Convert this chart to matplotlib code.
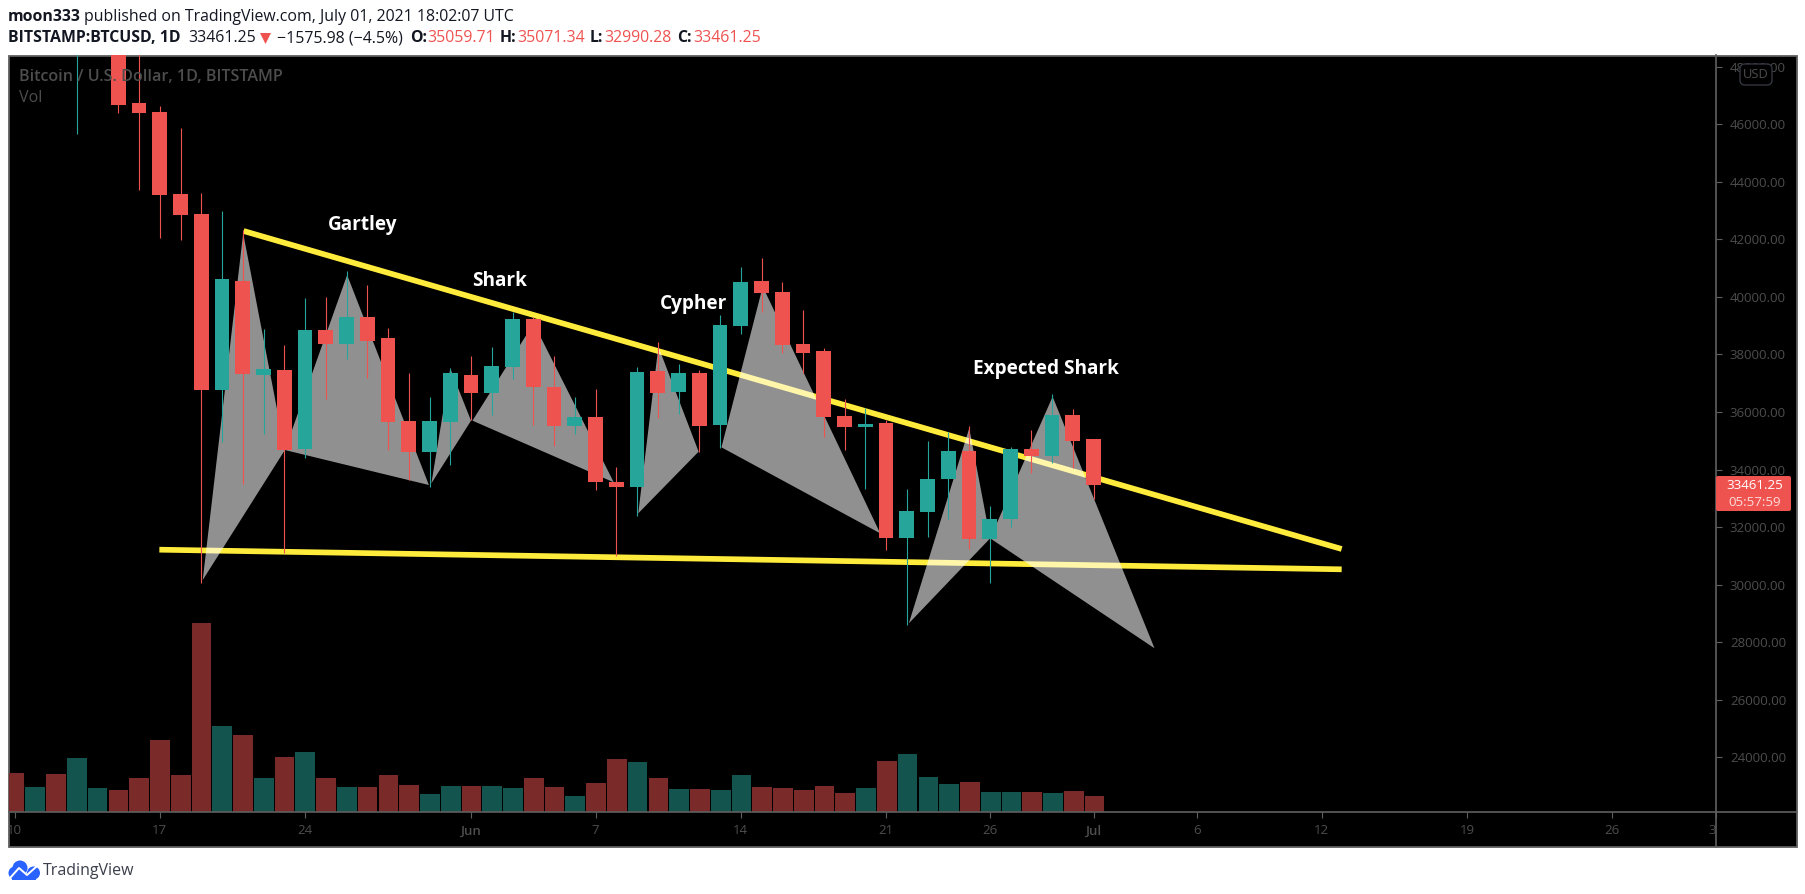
import matplotlib
matplotlib.use("Agg")
import matplotlib.pyplot as plt
from matplotlib.patches import Rectangle, Polygon, Circle, FancyBboxPatch
from matplotlib.transforms import Bbox

# days are counted from 10 May 2021 (day 0)
days = list(range(53))
opens = [58200, 55800, 56700, 49500, 49700, 49900, 46738, 46425, 43576, 42882,
         36766, 40554, 37288, 37461, 34716, 38851, 38365, 39303, 38573, 35689,
         34612, 35654, 37287, 36662, 37565, 39233, 36870, 35515, 35828, 33570,
         33396, 37427, 36697, 37357, 35550, 38990, 40554, 40172, 38365, 38122,
         35863, 35481, 35620, 31624, 32528, 33674, 34647, 31590, 32284, 34717,
         34473, 35898, 35059.71]
highs = [59500, 57900, 58000, 51500, 51500, 50700, 49000, 46634, 45870, 43600,
         42986, 42326, 38886, 38330, 39963, 39998, 40901, 40415, 38920, 37357,
         36523, 37531, 37948, 38260, 39476, 39291, 37948, 36523, 36801, 34080,
         37566, 38434, 37670, 37462, 39373, 41040, 41353, 40519, 39546, 38226,
         36454, 36130, 35724, 33327, 34995, 35307, 35516, 32736, 34786, 35377,
         36628, 36106, 35071.34]
lows = [54500, 54400, 48600, 45661, 48800, 46402, 43715, 42047, 41978, 30072,
        34960, 33500, 35237, 31114, 34404, 36454, 37843, 37183, 34681, 33639,
        33408, 34160, 35724, 35898, 37148, 35550, 34820, 35237, 33292, 30999,
        32389, 35794, 35933, 34613, 34751, 38712, 39477, 38052, 37346, 35133,
        34682, 33327, 31207, 28601, 31659, 32284, 31242, 30061, 32006, 33871,
        34242, 34056, 32990.28]
closes = [55800, 56700, 49500, 49700, 49900, 46680, 46391, 43541, 42846, 36766,
          40623, 37322, 37496, 34681, 38851, 38365, 39303, 38469, 35654, 34612,
          35689, 37357, 36662, 37600, 39233, 36870, 35515, 35828, 33570, 33396,
          37392, 36662, 37357, 35516, 39025, 40519, 40137, 38330, 38052, 35828,
          35481, 35585, 31624, 32562, 33674, 34647, 31590, 32284, 34717, 34473,
          35898, 34995, 33461.25]
# volume heights (arbitrary units)
volumes = [39, 25, 38, 54, 24, 22, 34, 72, 37, 189,
           86, 77, 34, 55, 60, 34, 25, 25, 37, 27,
           18, 26, 26, 26, 24, 34, 25, 16, 29, 53,
           50, 34, 23, 23, 22, 37, 25, 24, 22, 26,
           19, 24, 51, 58, 35, 28, 30, 20, 20, 20,
           19, 21, 16]
volume_up = [0, 1, 0, 1, 1, 0, 0, 0, 0, 0,
             1, 0, 1, 0, 1, 0, 1, 0, 0, 0,
             1, 1, 0, 1, 1, 0, 0, 1, 0, 0,
             1, 0, 1, 0, 1, 1, 0, 0, 0, 0,
             0, 1, 0, 1, 1, 1, 0, 1, 1, 0,
             1, 0, 0]

pattern_days = [[9.07, 11.02, 13.03], [13.03, 16.03, 19.97],
                [20.09, 21.0, 22.0], [22.07, 25.02, 28.88],
                [30.06, 31.03, 32.97], [34.07, 36.06, 41.72],
                [43.1, 46.01, 47.02], [47.02, 50.03, 54.94]]
pattern_prices = [[30164, 42210, 34681], [34681, 40762, 33465],
                  [33523, 37519, 35701], [35701, 39083, 33558],
                  [32481, 38272, 34624], [34775, 40357, 31786],
                  [28659, 35435, 31613], [31613, 36535, 27792]]

trend_upper_days = [11.04, 63.96]
trend_upper_prices = [42291, 31242]
trend_lower_days = [6.98, 63.96]
trend_lower_prices = [31218, 30536]

label_names = ["Gartley", "Shark", "Cypher", "Expected Shark"]
label_days = [16.8, 23.4, 32.72, 49.7]
label_prices = [42490, 40550, 39770, 37490]

price_ticks = list(range(24000, 50000, 2000))
date_tick_days = [0, 7, 14, 22, 28, 35, 42, 47, 52, 57, 63, 70, 77, 82]
date_tick_labels = ["10", "17", "24", "Jun", "7", "14", "21", "26", "Jul", "6", "12", "19", "26", "31"]

last_price = "33461.25"
countdown = "05:57:59"

RED = "#EF5350"
TEAL = "#26A69A"
VOL_RED = "#7B2A2A"
VOL_GREEN = "#14544E"
YELLOW = "#FFEB3B"
AXIS_GREY = "#5f5f5f"
TEXT_GREY = "#4d4d4d"
W, H = 1805, 894

plt.rcParams["font.family"] = ["Open Sans", "DejaVu Sans"]


def pixel_axes(fig, z):
    a = fig.add_axes([0, 0, 1, 1], zorder=z)
    a.set_xlim(0, W)
    a.set_ylim(H, 0)
    a.axis("off")
    a.patch.set_visible(False)
    return a


fig = plt.figure(figsize=(W / 100, H / 100), dpi=100, facecolor="white")
back = pixel_axes(fig, 0)
back.add_patch(Rectangle((8.5, 55.5), 1788, 791, fc="black", ec=AXIS_GREY, lw=1.3))

# main pane: 8.5..1716 across, 55..812 down
pane = [8.5 / W, 1 - 812 / H, (1716 - 8.5) / W, (812 - 55) / H]
vol_ax = fig.add_axes(pane, zorder=1, facecolor="none")
ax = fig.add_axes(pane, zorder=2, facecolor="none")

vol_colors = [VOL_GREEN if u else VOL_RED for u in volume_up]
vol_ax.bar(days, volumes, width=0.95, color=vol_colors, linewidth=0)
vol_ax.set_xlim(-0.29, 81.92)
vol_ax.set_ylim(0, 757)
vol_ax.axis("off")

ax.plot(trend_upper_days, trend_upper_prices, color=YELLOW, lw=4.1, solid_capstyle="butt", zorder=2)
ax.plot(trend_lower_days, trend_lower_prices, color=YELLOW, lw=4.1, solid_capstyle="butt", zorder=2)

for xs, ys in zip(pattern_days, pattern_prices):
    ax.add_patch(Polygon(list(zip(xs, ys)), closed=True, fc="white", alpha=0.57, lw=0, zorder=3))

for d, o, h, l, c in zip(days, opens, highs, lows, closes):
    col = TEAL if c >= o else RED
    ax.vlines(d, l, h, color=col, lw=0.8, zorder=4)
    ax.bar(d, abs(c - o), bottom=min(o, c), width=0.72, color=col, linewidth=0, zorder=5)

for name, d, p in zip(label_names, label_days, label_prices):
    ax.text(d, p, name, color="white", fontsize=13.7, fontweight="bold", ha="center", va="center", zorder=6)

ax.set_xlim(-0.29, 81.92)
ax.set_ylim(22104, 48406)
ax.yaxis.tick_right()
ax.set_yticks(price_ticks)
ax.set_yticklabels([f"{p}.00" for p in price_ticks])
ax.set_xticks(date_tick_days)
ax.set_xticklabels(date_tick_labels)
ax.tick_params(axis="y", length=4, width=0.8, color=AXIS_GREY, labelcolor=TEXT_GREY, labelsize=9.5, pad=6)
ax.tick_params(axis="x", length=4, width=0.8, color=AXIS_GREY, labelcolor=TEXT_GREY, labelsize=9.5, pad=5)
for s in ["top", "left"]:
    ax.spines[s].set_visible(False)
for s in ["right", "bottom"]:
    ax.spines[s].set_color(AXIS_GREY)
    ax.spines[s].set_linewidth(1.2)
clip = Bbox([[8.5, 0], [1716, H]])
for t, name in zip(ax.get_xticklabels(), date_tick_labels):
    t.set_clip_box(clip)
    t.set_clip_on(True)
    if name in ("Jun", "Jul"):
        t.set_fontweight("semibold")

top = pixel_axes(fig, 5)
top.plot([1716, 1797], [812, 812], color=AXIS_GREY, lw=1.2)
top.plot([1716, 1716], [812, 847], color=AXIS_GREY, lw=1.2)

# header text
HDR = 11.4
top.text(8, 17, "moon333", fontsize=HDR, fontweight="bold", color="#131722", va="center")
top.text(84, 17, "published on TradingView.com, July 01, 2021 18:02:07 UTC", fontsize=HDR, color="#131722", va="center")
top.text(8, 38.5, "BITSTAMP:BTCUSD, 1D", fontsize=HDR, fontweight="bold", color="#131722", va="center")
top.text(188, 38.5, last_price, fontsize=HDR, color="#131722", va="center")
top.add_patch(Polygon([(260, 33), (271, 33), (265.5, 44)], closed=True, fc=RED, lw=0))
top.text(277, 38.5, "\u22121575.98 (\u22124.5%)", fontsize=HDR, color="#131722", va="center")
for lab, lx, val, vx in [("O:", 410, "35059.71", 427), ("H:", 500, "35071.34", 517),
                         ("L:", 590, "32990.28", 604), ("C:", 677, last_price, 693)]:
    top.text(lx, 38.5, lab, fontsize=HDR, fontweight="bold", color="#131722", va="center")
    top.text(vx, 38.5, val, fontsize=HDR, color=RED, va="center")

top.text(19, 77, "Bitcoin / U.S. Dollar, 1D, BITSTAMP", fontsize=11.6, fontweight="semibold", color=TEXT_GREY, va="center")
top.text(19, 98, "Vol", fontsize=11.6, color=TEXT_GREY, va="center")

# currency badge over the 48000 label
top.add_patch(FancyBboxPatch((1743, 67), 26, 15, boxstyle="round,pad=3,rounding_size=5", fc="black", ec="#33363f", lw=1))
top.text(1756, 74.5, "USD", fontsize=9.3, color=TEXT_GREY, ha="center", va="center")

# last price tag
top.add_patch(FancyBboxPatch((1716, 476), 75, 35, boxstyle="round,pad=0,rounding_size=2", fc=RED, lw=0))
top.text(1755, 485.5, last_price, fontsize=9.6, color="white", ha="center", va="center")
top.text(1755, 502, countdown, fontsize=9.6, color="#FBDCDB", ha="center", va="center")

# TradingView logo
BLUE = "#2962FF"
top.add_patch(Circle((15, 873), 6.5, fc=BLUE, lw=0))
top.add_patch(Circle((20, 868), 7.5, fc=BLUE, lw=0))
top.add_patch(Circle((33.5, 873), 6.5, fc=BLUE, lw=0))
top.add_patch(Rectangle((12, 873), 24, 6.5, fc=BLUE, lw=0))
top.plot([10, 19, 27, 36], [878, 868, 875, 867], color="white", lw=1.4)
top.text(43, 871, "TradingView", fontsize=11.5, color="#3a3f4b", va="center")

fig.savefig("out.png", dpi=100, facecolor="white")
